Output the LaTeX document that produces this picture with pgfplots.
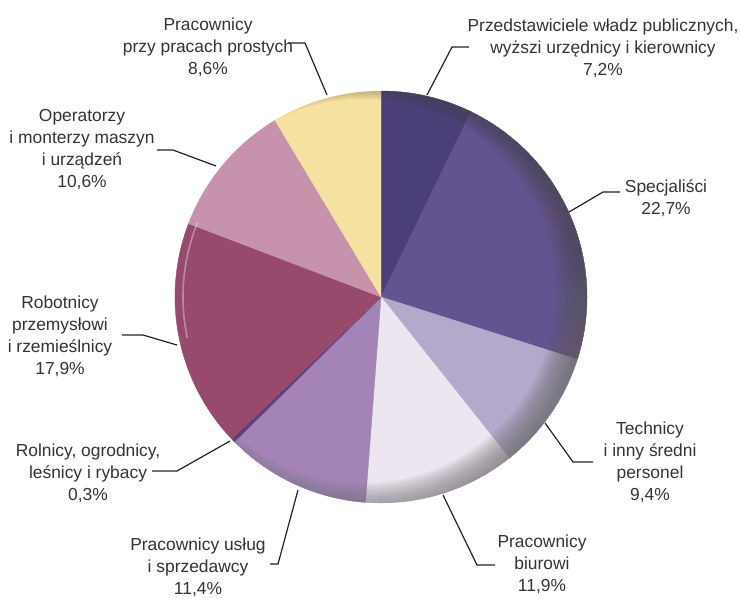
\documentclass[border=0pt]{standalone}
\usepackage{pgfplots}
\pgfplotsset{compat=1.18}
\usepackage{pgfplotstable}
\usepackage{fontspec}
\setmainfont{Liberation Sans}

\definecolor{c1}{HTML}{4B3F78}
\definecolor{c2}{HTML}{625490}
\definecolor{c3}{HTML}{B3AACB}
\definecolor{c4}{HTML}{EDE5F0}
\definecolor{c5}{HTML}{A383B8}
\definecolor{c6}{HTML}{5E3F78}
\definecolor{c7}{HTML}{984A6C}
\definecolor{c8}{HTML}{C792AC}
\definecolor{c9}{HTML}{F5E1A0}
\definecolor{txt}{HTML}{333333}
\definecolor{lead}{HTML}{222222}
\definecolor{shade}{HTML}{3A2A32}

\tikzset{lbl/.style={font=\fontsize{17.4}{22}\selectfont, text=txt, align=center, inner sep=0pt}}

\pgfplotstableread{
value color
7.2  c1
22.7 c2
9.4  c3
11.9 c4
11.4 c5
0.3  c6
17.9 c7
10.6 c8
8.6  c9
}\piedata

\begin{document}
\begin{tikzpicture}
\useasboundingbox (0,0) rectangle (741pt,598pt);
\begin{axis}[
  at={(0,0)}, anchor=south west,
  scale only axis, width=741pt, height=598pt,
  xmin=0, xmax=741, ymin=0, ymax=598, y dir=reverse,
  hide axis, clip=false,
]
\pgfplotstablegetrowsof{\piedata}
\pgfmathtruncatemacro\N{\pgfplotsretval-1}
\def\cum{0}
\pgfplotsforeachungrouped \i in {0,...,\N}{%
  \pgfplotstablegetelem{\i}{value}\of\piedata \let\v\pgfplotsretval
  \pgfplotstablegetelem{\i}{color}\of\piedata \let\c\pgfplotsretval
  \pgfmathsetmacro\a{\cum*3.6}%
  \pgfmathsetmacro\b{(\cum+\v)*3.6}%
  \pgfmathsetmacro\cum{\cum+\v}%
  \edef\temp{\noexpand\addplot[fill=\c, draw=\c, line width=0.4pt, domain=\a:\b, samples=60, variable=\noexpand\t]
    ({381+206*sin(\noexpand\t)},{297-206*cos(\noexpand\t)}) -- (axis cs:381,297) -- cycle;}%
  \temp
}

% glossy rim: stacked translucent rings, strongest toward right and bottom
\pgfplotsinvokeforeach{0,...,19}{
  \begin{scope}
    \clip (axis cs:381,297) circle[radius=206pt];
    \fill[shade, fill opacity=0.026, even odd rule] (axis cs:381,297) circle[radius=240pt] (axis cs:363,291) circle[radius={(192+1.5*#1)*1pt}];
  \end{scope}
}
\draw[white, opacity=0.35, line width=1.6pt] (axis cs:381,297) ++(158:198pt) arc[start angle=158, end angle=192, radius=198pt];

% leader lines
\addplot[lead, line width=1.2pt] coordinates {(469,47) (452,47) (427,95)};
\addplot[lead, line width=1.2pt] coordinates {(288,43) (305,43) (327,95)};
\addplot[lead, line width=1.2pt] coordinates {(157,150) (173,150) (216,166)};
\addplot[lead, line width=1.2pt] coordinates {(620,192) (603,192) (569,212)};
\addplot[lead, line width=1.2pt] coordinates {(122,335) (143,335) (177,345)};
\addplot[lead, line width=1.2pt] coordinates {(152,471) (177,471) (230,441)};
\addplot[lead, line width=1.2pt] coordinates {(270,564) (278,564) (298,490)};
\addplot[lead, line width=1.2pt] coordinates {(443,495) (477,565) (495,565)};
\addplot[lead, line width=1.2pt] coordinates {(545,423) (573,462) (593,462)};

% labels
\node[lbl] at (axis cs:603,48) {Przedstawiciele władz publicznych,\\wyższi urzędnicy i kierownicy\\7,2\%};
\node[lbl] at (axis cs:208,47) {Pracownicy\\przy pracach prostych\\8,6\%};
\node[lbl] at (axis cs:82,150) {Operatorzy\\i monterzy maszyn\\i urządzeń\\10,6\%};
\node[lbl] at (axis cs:666,198) {Specjaliści\\22,7\%};
\node[lbl] at (axis cs:60,336) {Robotnicy\\przemysłowi\\i rzemieślnicy\\17,9\%};
\node[lbl] at (axis cs:88,473) {Rolnicy, ogrodnicy,\\leśnicy i rybacy\\0,3\%};
\node[lbl] at (axis cs:198,567) {Pracownicy usług\\i sprzedawcy\\11,4\%};
\node[lbl] at (axis cs:542,564) {Pracownicy\\biurowi\\11,9\%};
\node[lbl] at (axis cs:650,462) {Technicy\\i inny średni\\personel\\9,4\%};
\end{axis}
\end{tikzpicture}
\end{document}
